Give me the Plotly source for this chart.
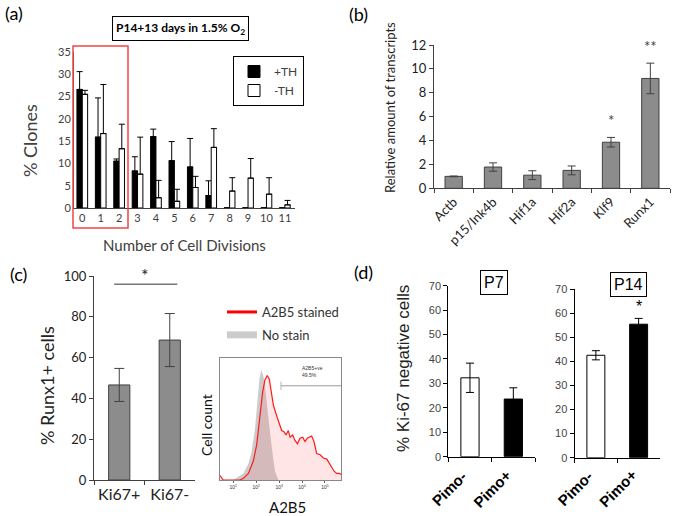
import plotly.graph_objects as go

W, H = 675, 516

# ---------------- data ----------------
# (a) clone divisions
divisions = ["0", "1", "2", "3", "4", "5", "6", "7", "8", "9", "10", "11"]
plus_th = [26.6, 15.9, 10.5, 8.3, 16.0, 10.6, 9.2, 2.8, 0, 0, 0, 0]
plus_th_err = [4.0, 8.8, 0.5, 3.2, 1.7, 4.3, 6.4, 3.3, 0, 0, 0, 0]
minus_th = [25.5, 16.7, 13.3, 7.6, 2.3, 1.5, 4.6, 13.6, 3.8, 6.7, 3.1, 0.7]
minus_th_err = [0.9, 11.0, 5.5, 8.3, 3.9, 2.7, 2.5, 4.2, 3.0, 4.4, 3.7, 1.0]

# (b) transcripts
genes = ["Actb", "p15/Ink4b", "Hif1a", "Hif2a", "Klf9", "Runx1"]
rel_amount = [1.0, 1.78, 1.1, 1.5, 3.86, 9.2]
rel_err = [0.03, 0.35, 0.37, 0.37, 0.4, 1.28]
gene_stars = ["", "", "", "", "*", "**"]

# (c) Runx1+ cells
ki_groups = ["Ki67+", "Ki67-"]
runx_pct = [46.6, 68.6]
runx_err = [8.1, 13.0]

# (c) flow histogram (log10 intensity, relative count)
stain_log = [0.42, 0.56, 1.29, 1.44, 1.66, 1.87, 2.02, 2.17, 2.28, 2.38, 2.48, 2.57,
             2.65, 2.75, 2.90, 3.04, 3.11, 3.21, 3.30, 3.40, 3.48, 3.59, 3.69, 3.80,
             3.91, 4.03, 4.13, 4.23, 4.35, 4.42, 4.52, 4.64, 4.79, 4.93, 5.08, 5.22,
             5.40, 5.51, 5.63, 5.70]
stain_count = [0.04, 0.0, 0.0, 0.015, 0.06, 0.17, 0.32, 0.59, 0.80, 0.91, 0.95, 0.92,
               0.80, 0.68, 0.58, 0.48, 0.45, 0.44, 0.41, 0.45, 0.39, 0.41, 0.36, 0.33,
               0.38, 0.39, 0.35, 0.38, 0.39, 0.40, 0.35, 0.24, 0.23, 0.20, 0.19, 0.14,
               0.08, 0.06, 0.06, 0.05]
nostain_log = [0.42, 1.0, 1.22, 1.44, 1.66, 1.80, 1.95, 2.05, 2.14, 2.22, 2.31, 2.38,
               2.48, 2.60, 2.72, 2.82, 2.97]
nostain_count = [0.0, 0.0, 0.03, 0.06, 0.15, 0.26, 0.47, 0.68, 0.92, 1.0, 0.95, 0.86,
                 0.65, 0.44, 0.23, 0.08, 0.0]
gate_log = [3.08, 5.70]
gate_level = 0.857
decade_ticks = [1, 2, 3, 4, 5]
decade_labels = ["10<sup>1</sup>", "10<sup>2</sup>", "10<sup>3</sup>", "10<sup>4</sup>", "10<sup>5</sup>"]

# (d) Ki-67 negative cells
pimo = ["Pimo-", "Pimo+"]
p7_vals = [32.3, 23.6]
p7_err = [6.0, 4.6]
p14_vals = [42.5, 55.4]
p14_err = [1.9, 2.4]
pimo_colors = ["white", "black"]

# ---------------- helpers ----------------
def fx(px):
    return px / W

def fy(py):
    return 1 - py / H

CAL = "Lato"
ARIAL = "Liberation Sans"
DARK = "#404040"

def ann(text, px, py, size, family=CAL, color="black", angle=0, **kw):
    d = dict(text=text, x=fx(px), y=fy(py), xref="paper", yref="paper",
             showarrow=False, font=dict(size=size, family=family, color=color),
             xanchor="center", yanchor="middle", textangle=angle)
    d.update(kw)
    return d

fig = go.Figure()

# ---------------- (a) ----------------
fig.add_trace(go.Bar(
    x=divisions, y=plus_th, name="+TH", xaxis="x", yaxis="y",
    offset=-0.29, width=0.29,
    marker=dict(color="black", line=dict(color="black", width=1)),
    error_y=dict(type="data", array=plus_th_err, arrayminus=[0] * 12, symmetric=False,
                 color="black", thickness=1, width=3),
    legend="legend"))
fig.add_trace(go.Bar(
    x=divisions, y=minus_th, name="-TH", xaxis="x", yaxis="y",
    offset=0.0, width=0.29,
    marker=dict(color="white", line=dict(color="black", width=1)),
    error_y=dict(type="data", array=minus_th_err, arrayminus=[0] * 12, symmetric=False,
                 color="black", thickness=1, width=3),
    legend="legend"))

# ---------------- (b) ----------------
fig.add_trace(go.Bar(
    x=genes, y=rel_amount, xaxis="x2", yaxis="y2", width=0.44, showlegend=False,
    marker=dict(color="#8c8c8c", line=dict(color=DARK, width=1)),
    error_y=dict(type="data", array=rel_err, color=DARK, thickness=1, width=4)))

# ---------------- (c) bars ----------------
fig.add_trace(go.Bar(
    x=ki_groups, y=runx_pct, xaxis="x3", yaxis="y3", width=0.42, showlegend=False,
    marker=dict(color="#8c8c8c", line=dict(color=DARK, width=1)),
    error_y=dict(type="data", array=runx_err, color=DARK, thickness=1, width=5)))

# ---------------- (c) histogram ----------------
fig.add_trace(go.Scatter(
    x=nostain_log, y=nostain_count, xaxis="x4", yaxis="y4", mode="lines",
    line=dict(width=0, color="rgba(180,180,180,0)"), fill="tozeroy",
    fillcolor="rgba(175,175,175,0.65)", showlegend=False))
fig.add_trace(go.Scatter(
    x=stain_log, y=stain_count, xaxis="x4", yaxis="y4", mode="lines",
    line=dict(width=1.2, color="#ff1a1a"), fill="tozeroy",
    fillcolor="rgba(255,110,110,0.18)", showlegend=False))
fig.add_trace(go.Scatter(
    x=gate_log, y=[gate_level, gate_level], xaxis="x4", yaxis="y4", mode="lines+markers",
    line=dict(width=1, color="#999999"),
    marker=dict(symbol="line-ns-open", size=[6, 0], color="#999999", line=dict(width=1, color="#999999")),
    showlegend=False))
# legend entries for histogram
fig.add_trace(go.Scatter(x=[None], y=[None], xaxis="x4", yaxis="y4", mode="lines",
                         line=dict(color="red", width=3), name="A2B5 stained",
                         legend="legend2", legendgroup="s"))
fig.add_trace(go.Scatter(x=[None], y=[None], xaxis="x4", yaxis="y4", mode="lines",
                         line=dict(color="#cccccc", width=7), name="No stain",
                         legend="legend2", legendgroup="n"))

# ---------------- (d) ----------------
fig.add_trace(go.Bar(
    x=pimo, y=p7_vals, xaxis="x5", yaxis="y5", width=0.42, showlegend=False,
    marker=dict(color=pimo_colors, line=dict(color="black", width=1)),
    error_y=dict(type="data", array=p7_err, color="black", thickness=1, width=4)))
fig.add_trace(go.Bar(
    x=pimo, y=p14_vals, xaxis="x6", yaxis="y6", width=0.42, showlegend=False,
    marker=dict(color=pimo_colors, line=dict(color="black", width=1)),
    error_y=dict(type="data", array=p14_err, color="black", thickness=1, width=4)))

# ---------------- axes ----------------
def cat_x(dom, anchor, rng, font, ticks="outside", **kw):
    d = dict(domain=[fx(dom[0]), fx(dom[1])], anchor=anchor, type="category", range=rng,
             showline=True, linecolor=DARK, linewidth=1, showgrid=False, zeroline=False,
             ticks=ticks, tickson="boundaries", ticklen=4, tickcolor=DARK, tickfont=font,
             fixedrange=True, automargin=False)
    d.update(kw)
    return d

def lin_y(dom, anchor, rng, dtick, font, **kw):
    d = dict(domain=[fy(dom[0]), fy(dom[1])], anchor=anchor, range=rng, dtick=dtick,
             showline=True, linecolor=DARK, linewidth=1, showgrid=False, zeroline=False,
             ticks="outside", ticklen=4, tickcolor=DARK, tickfont=font, automargin=False)
    d.update(kw)
    return d

layout = dict(
    width=W, height=H, margin=dict(l=0, r=0, t=0, b=0, pad=0, autoexpand=False),
    paper_bgcolor="white", plot_bgcolor="white", barmode="overlay",
    showlegend=True,
    xaxis=cat_x((74, 295), "y", [-0.45, 11.55], dict(family=CAL, size=11, color=DARK),
                ticks="", tickangle=0),
    yaxis=lin_y((208, 52), "x", [0, 35], 5, dict(family=CAL, size=11, color=DARK), ticks=""),
    xaxis2=cat_x((434, 670), "y2", [-0.5, 5.5], dict(family=CAL, size=13, color="#222"), tickangle=-45),
    yaxis2=lin_y((188.3, 45), "x2", [0, 12], 2, dict(family=CAL, size=13, color="#222")),
    xaxis3=cat_x((94, 195), "y3", [-0.5, 1.5], dict(family=CAL, size=16, color="#222"), tickangle=0),
    yaxis3=lin_y((480, 276), "x3", [0, 100], 20, dict(family=CAL, size=13, color="#222")),
    xaxis4=dict(domain=[fx(220), fx(341)], anchor="y4", range=[0.42, 5.70], showgrid=False,
                zeroline=False, showline=True, mirror=True, linecolor="#888888", linewidth=1,
                tickvals=decade_ticks, ticktext=decade_labels, ticks="outside", ticklen=2,
                tickcolor="#666", tickangle=0, automargin=False,
                tickfont=dict(family=ARIAL, size=5, color="#333")),
    yaxis4=dict(domain=[fy(480), fy(358)], anchor="x4", range=[0, 1.11], showgrid=False,
                zeroline=False, showline=True, mirror=True, linecolor="#888888", linewidth=1,
                showticklabels=False, ticks="", automargin=False),
    xaxis5=cat_x((448.3, 535), "y5", [-0.5, 1.5],
                 dict(family=ARIAL, size=15, color="black"), showticklabels=False,
                 linecolor="black", tickcolor="black"),
    yaxis5=lin_y((456.7, 285.7), "x5", [0, 70], 10, dict(family=ARIAL, size=11, color="#444"),
                 linecolor="black", tickcolor="black"),
    xaxis6=cat_x((574.5, 660), "y6", [-0.5, 1.5],
                 dict(family=ARIAL, size=15, color="black"), showticklabels=False,
                 linecolor="black", tickcolor="black"),
    yaxis6=lin_y((457.7, 289), "x6", [0, 70], 10, dict(family=ARIAL, size=11, color="#444"),
                 linecolor="black", tickcolor="black"),
    legend=dict(x=fx(304), xanchor="right", y=fy(56), yanchor="top", bgcolor="white",
                bordercolor="black", borderwidth=1, font=dict(family=CAL, size=12, color=DARK),
                itemwidth=30, tracegroupgap=0),
    legend2=dict(x=fx(222), xanchor="left", y=fy(297), yanchor="top", bgcolor="rgba(0,0,0,0)",
                 borderwidth=0, font=dict(family=CAL, size=13, color="#333"),
                 itemwidth=30, tracegroupgap=3),
)
fig.update_layout(**layout)

# ---------------- annotations & shapes ----------------
annotations = [
    ann("(a)", 14, 13, 18),
    ann("(b)", 358, 14, 18),
    ann("(c)", 18, 274, 18),
    ann("(d)", 363, 272, 18),
    ann("<b>P14+13 days in 1.5% O<sub>2</sub></b>", 180, 28.5, 12,
        bordercolor="black", borderwidth=1, borderpad=3, bgcolor="white"),
    ann("% Clones", 30, 141, 18, color=DARK, angle=-90),
    ann("Number of Cell Divisions", 184, 245, 15, color=DARK),
    ann("Relative amount of transcripts", 390, 107, 13, color="#222", angle=-90),
    ann("% Runx1+ cells", 47, 386, 18, color="#222", angle=-90),
    ann("Cell count", 206, 425, 14, color="#111", angle=-90),
    ann("A2B5", 287, 507, 15, color="#111"),
    ann("% Ki-67 negative cells", 403, 369, 17, family=ARIAL, color="#222", angle=-90),
    ann("P7", 493.7, 282.5, 16, family=ARIAL, bordercolor="black", borderwidth=1,
        borderpad=3, bgcolor="white"),
    ann("P14", 628.5, 284.5, 16, family=ARIAL, bordercolor="black", borderwidth=1,
        borderpad=3, bgcolor="white"),
]
# rotated bold category labels for (d)
for xr in ("x5", "x6"):
    for p in pimo:
        annotations.append(dict(text="<b>" + p + "</b>", x=p, xref=xr, y=fy(488), yref="paper",
                                showarrow=False, textangle=-45, xanchor="center",
                                yanchor="middle", xshift=-21,
                                font=dict(family=ARIAL, size=15, color="black")))
# significance stars in data coordinates
for g, v, e, s in zip(genes, rel_amount, rel_err, gene_stars):
    if s:
        annotations.append(dict(text=s, x=g, y=v + e + 0.5, xref="x2", yref="y2",
                                showarrow=False, yanchor="bottom",
                                font=dict(family=CAL, size=15, color=DARK)))
annotations.append(dict(text="*", x=0.5, y=94, xref="x3", yref="y3", showarrow=False,
                        yanchor="bottom", font=dict(family=CAL, size=18, color="#222")))
annotations.append(dict(text="*", x=pimo[1], y=p14_vals[1] + p14_err[1] + 0.6, xref="x6", yref="y6",
                        showarrow=False, yanchor="bottom", font=dict(family=ARIAL, size=16, color="black")))
annotations.append(dict(text="A2B5+ve<br>49.5%", x=3.9, y=0.985, xref="x4", yref="y4",
                        showarrow=False, xanchor="left", yanchor="middle", align="left",
                        font=dict(family=ARIAL, size=5, color="#333")))

shapes = [
    dict(type="rect", xref="paper", yref="paper", x0=fx(73), x1=fx(128), y0=fy(228), y1=fy(46),
         line=dict(color="rgb(240,70,70)", width=1.5)),
    dict(type="line", xref="x3", yref="y3", x0=-0.1, x1=1.15, y0=96, y1=96,
         line=dict(color="#333", width=1)),
]
fig.update_layout(annotations=annotations, shapes=shapes)

fig.write_html("out.html", config={"displayModeBar": False},
               post_script="document.body.style.margin='0';document.body.style.overflow='hidden';")
